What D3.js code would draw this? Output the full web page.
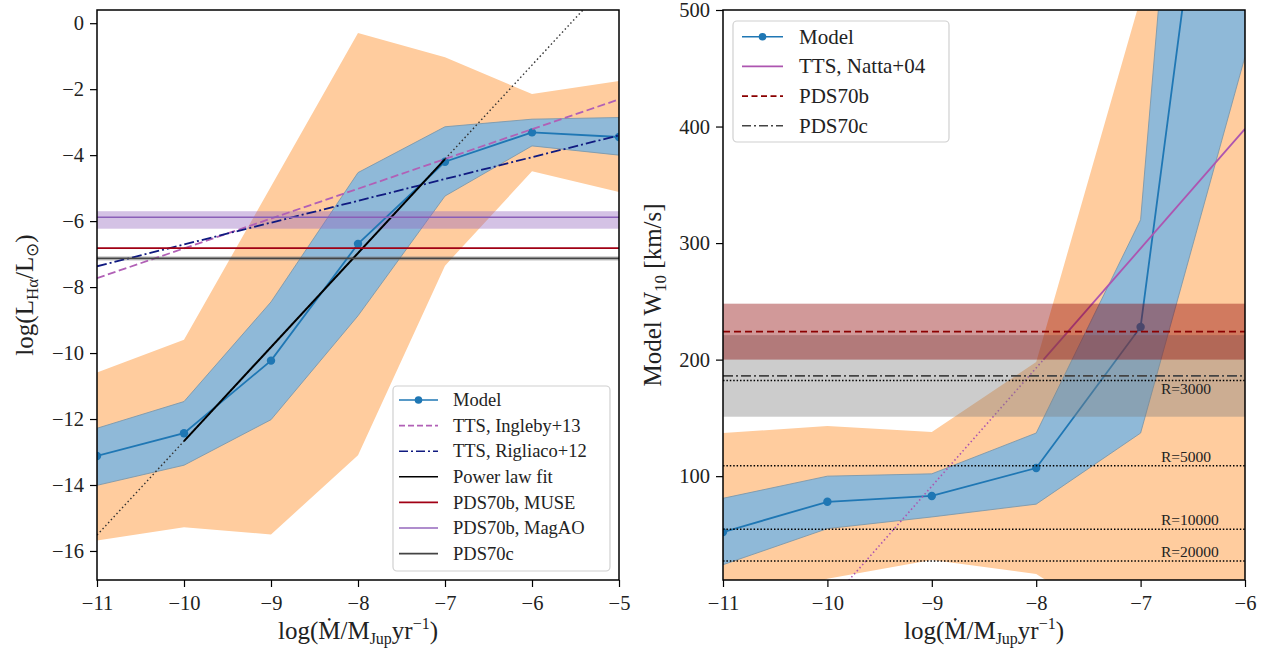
<!DOCTYPE html>
<html>
<head>
<meta charset="utf-8">
<script src="https://cdn.jsdelivr.net/npm/d3@7"></script>
<style>
  body { margin: 0; background: #fff; }
  svg text { font-family: "Liberation Serif", "Times New Roman", serif; fill: #222; }
</style>
</head>
<body>
<svg id="chart" width="1266" height="651"></svg>
<script>
// ---- left panel: H-alpha luminosity vs accretion rate ----
const mdot = [-11, -10, -9, -8, -7, -6, -5];
const lhaModel    = [-13.12, -12.43, -10.23, -6.69, -4.20, -3.31, -3.45];
const lhaBlueHi   = [-12.28, -11.47, -8.45, -4.53, -3.14, -2.91, -2.86];
const lhaBlueLo   = [-14.01, -13.40, -12.02, -8.87, -5.24, -3.72, -4.00];
const lhaOrangeHi = [-10.59, -9.60, -4.95, -0.30, -1.03, -2.15, -1.75];
const lhaOrangeLo = [-15.68, -15.28, -15.50, -13.10, -7.35, -4.49, -5.12];

const inglebyX = [-11, -5],  inglebyY = [-7.73, -2.31];
const rigliacoX = [-11, -5], rigliacoY = [-7.37, -3.40];
const fitX = [-11, -5],      fitY = [-15.52, 1.58];
const fitSolidX = [-10, -7], fitSolidY = [-12.67, -4.12];

const museL = -6.82;
const magaoL = -5.88, magaoLo = -6.23, magaoHi = -5.70;
const pds70cL = -7.13, pds70cLo = -7.20, pds70cHi = -7.06;

// ---- right panel: W10 vs accretion rate ----
const mdotW = [-11, -10, -9, -8, -7, -6];
const w10Model    = [52, 78, 83, 107, 228, 910];
const w10BlueHi   = [81, 100, 102, 137, 320, 1380];
const w10BlueLo   = [24, 55, 65, 76, 137, 460];
const w10OrangeHi = [137, 143, 138, 198, 510, 1500];
const w10OrangeLo = [-30, 12, 28, 16, -40, -40];

const nattaX = [-9.9, -7.93, -6], nattaY = [0, 200, 398];

const pds70bW = 224, pds70bLo = 200, pds70bHi = 248;
const pds70cW = 186, pds70cWLo = 151, pds70cWHi = 221;

const resLabels = ["R=3000", "R=5000", "R=10000", "R=20000"];
const resW10 = [182, 109, 54.5, 27.3];

const xTicksL = [-11, -10, -9, -8, -7, -6, -5];
const yTicksL = [-16, -14, -12, -10, -8, -6, -4, -2, 0];
const xTicksR = [-11, -10, -9, -8, -7, -6];
const yTicksR = [100, 200, 300, 400, 500];

const blue = "#1f77b4";
const svg = d3.select("#chart");

function panel(id, x0, x1, y0, y1, xdom, ydom) {
  const x = d3.scaleLinear().domain(xdom).range([x0, x1]);
  const y = d3.scaleLinear().domain(ydom).range([y1, y0]);
  svg.append("clipPath").attr("id", id)
    .append("rect").attr("x", x0).attr("y", y0).attr("width", x1 - x0).attr("height", y1 - y0);
  const g = svg.append("g").attr("clip-path", "url(#" + id + ")");
  return {x, y, g, x0, x1, y0, y1};
}

function band(p, xs, lo, hi, fill, opts) {
  const area = d3.area().x((d, i) => p.x(xs[i])).y0((d, i) => p.y(lo[i])).y1((d, i) => p.y(hi[i]));
  const path = p.g.append("path").attr("d", area(xs)).attr("fill", fill);
  if (opts) Object.entries(opts).forEach(([k, v]) => path.attr(k, v));
  return path;
}

function line(p, xs, ys, stroke, width, dash) {
  const ln = d3.line().x((d, i) => p.x(xs[i])).y((d, i) => p.y(ys[i]));
  return p.g.append("path").attr("d", ln(xs)).attr("fill", "none")
    .attr("stroke", stroke).attr("stroke-width", width)
    .attr("stroke-dasharray", dash || null);
}

function hband(p, lo, hi, fill, op) {
  p.g.append("rect").attr("x", p.x0).attr("width", p.x1 - p.x0)
    .attr("y", p.y(hi)).attr("height", p.y(lo) - p.y(hi))
    .attr("fill", fill).attr("fill-opacity", op);
}

function hline(p, v, stroke, width, dash, cap) {
  p.g.append("line").attr("x1", p.x0).attr("x2", p.x1).attr("y1", p.y(v)).attr("y2", p.y(v))
    .attr("stroke", stroke).attr("stroke-width", width)
    .attr("stroke-dasharray", dash || null).attr("stroke-linecap", cap || "butt");
}

function axes(p, xt, yt, xMinorStep, yMinorStep) {
  const fs = "20.5px";
  const xd = p.x.domain(), yd = p.y.domain();
  const xMinor = d3.range(Math.ceil(xd[0] / xMinorStep), Math.floor(xd[1] / xMinorStep) + 1).map(k => +(k * xMinorStep).toFixed(4));
  const yMinor = d3.range(Math.ceil(yd[0] / yMinorStep), Math.floor(yd[1] / yMinorStep) + 1).map(k => +(k * yMinorStep).toFixed(4));

  const gx = svg.append("g").attr("transform", "translate(0," + p.y1 + ")");
  gx.call(d3.axisBottom(p.x).tickValues(xMinor).tickSize(3.5).tickFormat(""));
  gx.call(d3.axisBottom(p.x).tickValues(xt).tickSize(7).tickPadding(8).tickFormat(d3.format("d")));
  const gy = svg.append("g").attr("transform", "translate(" + p.x0 + ",0)");
  gy.call(d3.axisLeft(p.y).tickValues(yMinor).tickSize(3.5).tickFormat(""));
  gy.call(d3.axisLeft(p.y).tickValues(yt).tickSize(7).tickPadding(6).tickFormat(d3.format("d")));
  [gx, gy].forEach(g => {
    g.selectAll(".domain").remove();
    g.selectAll("line").attr("stroke", "#000").attr("stroke-width", 1.2);
    g.selectAll("text").style("font-size", fs).attr("fill", "#222")
      .style("font-family", '"Liberation Serif", serif');
  });
  svg.append("rect").attr("x", p.x0).attr("y", p.y0).attr("width", p.x1 - p.x0).attr("height", p.y1 - p.y0)
    .attr("fill", "none").attr("stroke", "#000").attr("stroke-width", 1.5);
}

function xLabel(cx, cy) {
  const t = svg.append("text").attr("x", cx).attr("y", cy).attr("text-anchor", "middle").style("font-size", "25px");
  t.append("tspan").text("log(Ṁ/M");
  t.append("tspan").attr("dy", 4.5).style("font-size", "16px").text("Jup");
  t.append("tspan").attr("dy", -4.5).text("yr");
  t.append("tspan").attr("dy", -10).style("font-size", "16px").text("−1");
  t.append("tspan").attr("dy", 10).text(")");
}

function legend(x, y, w, h, rowY, rowH, fs, hx0, hx1, tx, items) {
  const g = svg.append("g");
  g.append("rect").attr("x", x).attr("y", y).attr("width", w).attr("height", h).attr("rx", 4)
    .attr("fill", "#fff").attr("fill-opacity", 0.8).attr("stroke", "#d0d0d0").attr("stroke-width", 1.2);
  items.forEach((it, i) => {
    const cy = rowY + i * rowH;
    g.append("line").attr("x1", x + hx0).attr("x2", x + hx1).attr("y1", cy).attr("y2", cy)
      .attr("stroke", it.color).attr("stroke-width", it.width || 1.6)
      .attr("stroke-dasharray", it.dash || null);
    if (it.marker) g.append("circle").attr("cx", x + (hx0 + hx1) / 2).attr("cy", cy).attr("r", 3.8).attr("fill", it.color);
    g.append("text").attr("x", x + tx).attr("y", cy + fs * 0.33).style("font-size", fs + "px").text(it.label);
  });
}

// ================= LEFT =================
const L = panel("clipL", 97, 619, 10, 580, [-11, -5], [-16.88, 0.4]);

band(L, mdot, lhaOrangeLo, lhaOrangeHi, "#ffcc9e");
band(L, mdot, lhaBlueLo, lhaBlueHi, "#8fb9d8", {stroke: "#7d98ab", "stroke-width": 0.9});

hband(L, magaoLo, magaoHi, "#9467bd", 0.4);
hband(L, pds70cLo, pds70cHi, "#808080", 0.35);

line(L, mdot, lhaModel, blue, 1.8);
L.g.selectAll("circle.m").data(mdot).enter().append("circle")
  .attr("cx", d => L.x(d)).attr("cy", (d, i) => L.y(lhaModel[i])).attr("r", 4.2).attr("fill", blue);

line(L, inglebyX, inglebyY, "#b160b6", 1.8, "8,3.5");
line(L, rigliacoX, rigliacoY, "#101a80", 1.8, "10,3,2,3");
line(L, fitX, fitY, "#333", 1.4, "1.5,2.6");
line(L, fitSolidX, fitSolidY, "#000", 2);

hline(L, museL, "#a10014", 1.8);
hline(L, magaoL, "#8a5fb8", 1.5);
hline(L, pds70cL, "#444", 1.8);

axes(L, xTicksL, yTicksL, 0.2, 0.5);
xLabel(358, 639);

const yl = svg.append("text").attr("transform", "translate(33,295) rotate(-90)")
  .attr("text-anchor", "middle").style("font-size", "25px");
yl.append("tspan").text("log(L");
yl.append("tspan").attr("dy", 5).style("font-size", "17px").text("Hα");
yl.append("tspan").attr("dy", -5).text("/L");
yl.append("tspan").attr("dy", 5).style("font-size", "17px").text("⊙");
yl.append("tspan").attr("dy", -5).text(")");

legend(393, 386, 217, 185, 400, 25.6, 18.5, 6, 45, 60, [
  {label: "Model", color: blue, marker: true},
  {label: "TTS, Ingleby+13", color: "#b160b6", dash: "6,3"},
  {label: "TTS, Rigliaco+12", color: "#101a80", dash: "9,3,2,3"},
  {label: "Power law fit", color: "#000"},
  {label: "PDS70b, MUSE", color: "#a10014"},
  {label: "PDS70b, MagAO", color: "#9467bd"},
  {label: "PDS70c", color: "#444"}
]);

// ================= RIGHT =================
const R = panel("clipR", 723, 1245, 10, 580, [-11, -6], [10.9, 500]);

band(R, mdotW, w10OrangeLo, w10OrangeHi, "#ffcc9e");
band(R, mdotW, w10BlueLo, w10BlueHi, "#8fb9d8", {stroke: "#7d98ab", "stroke-width": 0.9});

line(R, mdotW, w10Model, blue, 1.8);
R.g.selectAll("circle.m").data(mdotW).enter().append("circle")
  .attr("cx", d => R.x(d)).attr("cy", (d, i) => R.y(w10Model[i])).attr("r", 4.2).attr("fill", blue);

line(R, nattaX.slice(0, 2), nattaY.slice(0, 2), "#ad55b0", 1.6, "1.5,2.6");
line(R, nattaX.slice(1), nattaY.slice(1), "#ad55b0", 1.8);

hband(R, pds70cWLo, pds70cWHi, "#808080", 0.4);
hband(R, pds70bLo, pds70bHi, "#8b0000", 0.4);
hline(R, pds70bW, "#8b0000", 1.8, "7,4");
hline(R, pds70cW, "#444", 1.8, "10,3,2,3");

resW10.forEach((w, i) => {
  hline(R, w, "#000", 1.5, "1.5,1.9");
  const below = i === 0;
  R.g.append("text").attr("x", 1161).attr("y", R.y(w) + (below ? 13 : -4))
    .style("font-size", "15.5px").text(resLabels[i]);
});

axes(R, xTicksR, yTicksR, 0.2, 20);
xLabel(984, 639);

const yr = svg.append("text").attr("transform", "translate(661,295) rotate(-90)")
  .attr("text-anchor", "middle").style("font-size", "25px");
yr.append("tspan").text("Model W");
yr.append("tspan").attr("dy", 5).style("font-size", "17px").text("10");
yr.append("tspan").attr("dy", -5).text(" [km/s]");

legend(733, 21, 216, 121, 36.7, 29.7, 21, 9, 50, 66, [
  {label: "Model", color: blue, marker: true},
  {label: "TTS, Natta+04", color: "#ad55b0"},
  {label: "PDS70b", color: "#8b0000", dash: "6,3.5"},
  {label: "PDS70c", color: "#444", dash: "9,3,2,3"}
]);
</script>
</body>
</html>
